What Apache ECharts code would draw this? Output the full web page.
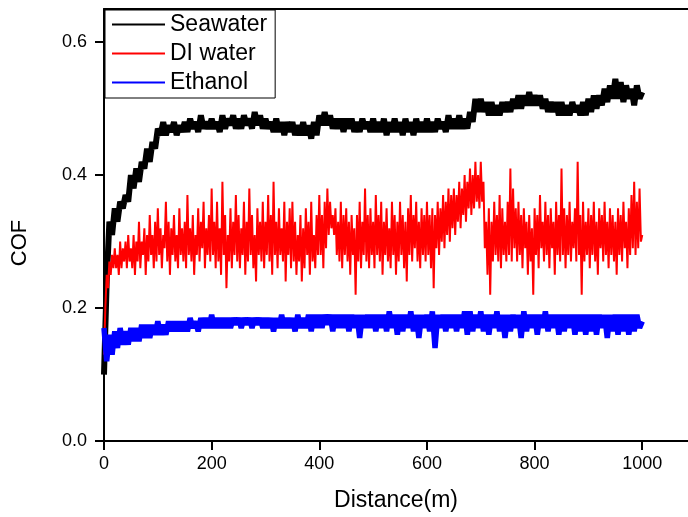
<!DOCTYPE html>
<html>
<head>
<meta charset="utf-8">
<script src="https://cdn.jsdelivr.net/npm/echarts@6/dist/echarts.min.js"></script>
<style>
  html, body { margin: 0; padding: 0; background: #fff; }
  #main { width: 688px; height: 517px; }
</style>
</head>
<body>
<div id="main"></div>
<script>
// COF readings, 0..1000 m
// seawater / ethanol sampled every 5 m, DI water every 2.5 m (it is much noisier)
var STEP_SEA = 5;
var STEP_DI = 2.5;
var STEP_ETH = 5;

var seawater = [
  0.10,0.24,0.33,0.31,0.35,0.33,0.36,0.35,0.37,0.36,
  0.40,0.38,0.41,0.39,0.42,0.41,0.44,0.42,0.45,0.44,
  0.47,0.46,0.48,0.46,0.475,0.465,0.48,0.46,0.475,0.465,
  0.48,0.465,0.485,0.47,0.48,0.465,0.49,0.47,0.48,0.47,
  0.485,0.47,0.48,0.465,0.49,0.47,0.485,0.475,0.49,0.47,
  0.485,0.47,0.49,0.475,0.485,0.47,0.495,0.475,0.49,0.47,
  0.485,0.47,0.48,0.465,0.485,0.465,0.48,0.46,0.48,0.465,
  0.48,0.46,0.475,0.46,0.48,0.46,0.475,0.455,0.48,0.46,
  0.49,0.475,0.495,0.475,0.49,0.47,0.485,0.47,0.485,0.465,
  0.485,0.47,0.485,0.465,0.48,0.465,0.485,0.47,0.48,0.465,
  0.485,0.465,0.48,0.465,0.485,0.46,0.48,0.465,0.485,0.465,
  0.48,0.46,0.485,0.465,0.48,0.46,0.485,0.465,0.48,0.465,
  0.485,0.465,0.48,0.465,0.485,0.47,0.48,0.465,0.49,0.47,
  0.485,0.47,0.49,0.47,0.485,0.47,0.495,0.48,0.515,0.495,
  0.515,0.495,0.51,0.49,0.51,0.49,0.505,0.49,0.51,0.495,
  0.51,0.495,0.515,0.50,0.52,0.50,0.52,0.505,0.525,0.505,
  0.52,0.505,0.52,0.50,0.515,0.495,0.51,0.495,0.51,0.49,
  0.51,0.49,0.505,0.49,0.51,0.495,0.505,0.49,0.51,0.49,
  0.515,0.495,0.52,0.50,0.52,0.505,0.53,0.51,0.535,0.515,
  0.545,0.515,0.54,0.51,0.535,0.515,0.53,0.505,0.535,0.515,
  0.525
];

var diWater = [
  0.13,0.20,0.25,0.23,0.27,0.25,0.28,0.26,0.29,0.26,0.28,0.25,0.30,0.26,0.29,0.27,0.30,0.26,0.31,0.27,
  0.29,0.26,0.31,0.25,0.30,0.27,0.33,0.26,0.30,0.28,0.32,0.25,0.31,0.27,0.34,0.28,0.31,0.26,0.33,0.27,
  0.35,0.28,0.32,0.26,0.31,0.29,0.36,0.27,0.33,0.25,0.32,0.28,0.34,0.27,0.31,0.26,0.35,0.28,0.32,0.27,
  0.33,0.26,0.37,0.28,0.32,0.27,0.34,0.25,0.31,0.28,0.35,0.27,0.33,0.29,0.36,0.26,0.32,0.28,0.34,0.27,
  0.38,0.28,0.33,0.26,0.36,0.27,0.32,0.25,0.39,0.28,0.34,0.23,0.31,0.27,0.35,0.26,0.33,0.28,0.37,0.27,
  0.34,0.26,0.32,0.28,0.36,0.25,0.33,0.27,0.38,0.28,0.34,0.26,0.31,0.24,0.35,0.28,0.33,0.27,0.36,0.26,
  0.33,0.28,0.37,0.27,0.34,0.25,0.39,0.28,0.33,0.26,0.35,0.28,0.32,0.27,0.36,0.24,0.33,0.28,0.35,0.26,
  0.36,0.27,0.33,0.25,0.31,0.27,0.34,0.24,0.32,0.26,0.35,0.28,0.33,0.25,0.36,0.27,0.31,0.26,0.34,0.28,
  0.37,0.28,0.34,0.26,0.36,0.29,0.38,0.31,0.36,0.32,0.34,0.31,0.35,0.28,0.33,0.27,0.36,0.26,0.34,0.28,
  0.35,0.27,0.33,0.25,0.34,0.28,0.32,0.22,0.34,0.27,0.36,0.26,0.33,0.28,0.38,0.27,0.34,0.26,0.35,0.28,
  0.33,0.26,0.37,0.28,0.34,0.27,0.36,0.25,0.33,0.28,0.35,0.27,0.32,0.26,0.36,0.28,0.34,0.25,0.33,0.27,
  0.36,0.28,0.34,0.26,0.33,0.24,0.35,0.28,0.37,0.27,0.34,0.29,0.36,0.27,0.33,0.26,0.35,0.28,0.34,0.27,
  0.36,0.28,0.34,0.26,0.35,0.23,0.34,0.29,0.36,0.28,0.35,0.30,0.37,0.29,0.36,0.31,0.38,0.30,0.37,0.32,
  0.38,0.31,0.37,0.33,0.39,0.32,0.38,0.34,0.40,0.33,0.39,0.35,0.41,0.34,0.40,0.35,0.42,0.36,0.40,0.35,
  0.42,0.36,0.39,0.29,0.33,0.25,0.35,0.22,0.33,0.27,0.36,0.28,0.34,0.27,0.37,0.26,0.35,0.28,0.33,0.27,
  0.36,0.28,0.41,0.27,0.38,0.29,0.35,0.27,0.36,0.28,0.34,0.26,0.35,0.29,0.33,0.25,0.34,0.27,0.32,0.22,
  0.35,0.28,0.34,0.26,0.37,0.29,0.33,0.27,0.36,0.28,0.34,0.26,0.35,0.29,0.33,0.25,0.36,0.28,0.34,0.27,
  0.41,0.28,0.35,0.26,0.34,0.28,0.36,0.27,0.33,0.29,0.35,0.27,0.42,0.28,0.34,0.22,0.36,0.27,0.33,0.28,
  0.35,0.26,0.34,0.28,0.36,0.27,0.33,0.25,0.35,0.29,0.34,0.27,0.36,0.28,0.33,0.26,0.35,0.28,0.34,0.27,
  0.33,0.25,0.35,0.28,0.34,0.27,0.36,0.29,0.33,0.26,0.35,0.28,0.37,0.29,0.39,0.28,0.36,0.29,0.38,0.30,
  0.31
];

var ethanol = [
  0.17,0.12,0.16,0.13,0.165,0.14,0.17,0.145,0.165,0.145,
  0.17,0.15,0.17,0.15,0.175,0.155,0.175,0.155,0.175,0.16,
  0.18,0.16,0.175,0.16,0.18,0.165,0.18,0.165,0.18,0.165,
  0.18,0.165,0.185,0.17,0.18,0.165,0.185,0.17,0.185,0.17,
  0.19,0.17,0.185,0.17,0.185,0.17,0.185,0.17,0.185,0.175,
  0.185,0.17,0.185,0.175,0.185,0.17,0.185,0.175,0.185,0.17,
  0.185,0.17,0.185,0.165,0.185,0.17,0.19,0.17,0.185,0.17,
  0.185,0.165,0.19,0.17,0.185,0.17,0.19,0.165,0.19,0.17,
  0.19,0.17,0.19,0.175,0.19,0.165,0.19,0.17,0.19,0.17,
  0.19,0.165,0.19,0.17,0.19,0.155,0.19,0.17,0.19,0.17,
  0.19,0.165,0.19,0.17,0.19,0.165,0.195,0.17,0.19,0.16,
  0.19,0.165,0.19,0.17,0.195,0.165,0.19,0.155,0.19,0.17,
  0.19,0.165,0.195,0.14,0.19,0.17,0.19,0.165,0.19,0.17,
  0.19,0.165,0.19,0.17,0.195,0.16,0.195,0.165,0.19,0.17,
  0.195,0.165,0.19,0.16,0.19,0.17,0.195,0.165,0.19,0.155,
  0.19,0.165,0.19,0.17,0.19,0.155,0.195,0.165,0.19,0.17,
  0.19,0.16,0.19,0.17,0.195,0.165,0.19,0.17,0.19,0.16,
  0.19,0.165,0.19,0.17,0.19,0.16,0.19,0.165,0.19,0.16,
  0.19,0.165,0.19,0.16,0.19,0.17,0.19,0.155,0.19,0.165,
  0.19,0.16,0.19,0.165,0.19,0.16,0.19,0.165,0.19,0.17,
  0.18
];

var xTicks = [0, 200, 400, 600, 800, 1000];
var yTicks = [0, 0.2, 0.4, 0.6];

function pairs(arr, step){
    var out = [];
    for (var i = 0; i < arr.length; i++) out.push([i * step, arr[i]]);
    return out;
}

var FONT = '"Liberation Sans", Arial, sans-serif';
var chart = echarts.init(document.getElementById('main'));

var option = {
    animation: false,
    grid: { left: 104, top: 9, right: 0, bottom: 72 },
    legend: {
        orient: 'vertical',
        left: 105, top: 10,
        padding: [2, 8, 3, 7],
        itemGap: 4,
        icon: 'rect',
        itemWidth: 53, itemHeight: 2,
        borderColor: '#000', borderWidth: 1,
        textStyle: { fontFamily: FONT, fontSize: 23, color: '#000', lineHeight: 25 },
        data: ['Seawater', 'DI water', 'Ethanol']
    },
    xAxis: [{
        type: 'value', min: 0, max: 1085,
        name: 'Distance(m)', nameLocation: 'middle', nameGap: 48,
        nameTextStyle: { fontFamily: FONT, fontSize: 23, color: '#000' },
        axisLine: { lineStyle: { color: '#000', width: 2 } },
        axisTick: { length: 9, lineStyle: { width: 2 }, customValues: xTicks },
        axisLabel: {
            fontFamily: FONT, fontSize: 18, color: '#000', margin: 14, customValues: xTicks,
            formatter: function (v) { return String(v); }
        },
        splitLine: { show: false }
    }, {
        type: 'value', position: 'top', min: 0, max: 1085,
        axisLine: { show: true, lineStyle: { color: '#000', width: 2 } },
        axisTick: { show: false }, axisLabel: { show: false }, splitLine: { show: false }
    }],
    yAxis: {
        type: 'value', min: 0, max: 0.65,
        name: 'COF', nameLocation: 'middle', nameGap: 73,
        nameTextStyle: { fontFamily: FONT, fontSize: 22, color: '#000', padding: [0, 36, 0, 0] },
        axisLine: { show: true, lineStyle: { color: '#000', width: 2 } },
        axisTick: { show: true, length: 9, lineStyle: { width: 2 }, customValues: yTicks },
        axisLabel: {
            fontFamily: FONT, fontSize: 18, color: '#000', margin: 17, customValues: yTicks,
            formatter: function (v) { return v.toFixed(1); }
        },
        splitLine: { show: false }
    },
    series: [{
        name: 'Seawater', type: 'line', symbol: 'none',
        color: '#000000', lineStyle: { width: 6 },
        data: pairs(seawater, STEP_SEA)
    }, {
        name: 'DI water', type: 'line', symbol: 'none',
        color: '#ff0000', lineStyle: { width: 2 },
        data: pairs(diWater, STEP_DI)
    }, {
        name: 'Ethanol', type: 'line', symbol: 'none',
        color: '#0000ff', lineStyle: { width: 5.5 },
        data: pairs(ethanol, STEP_ETH)
    }]
};
chart.setOption(option);
</script>
</body>
</html>
